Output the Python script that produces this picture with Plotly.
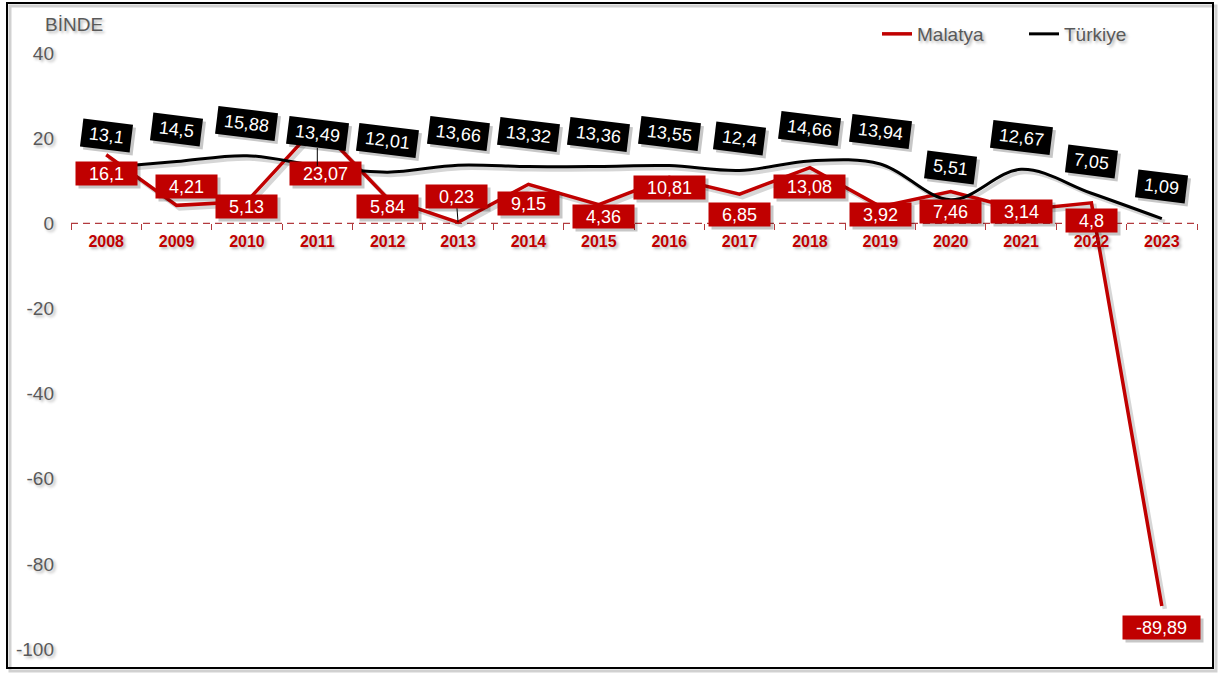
import plotly.graph_objects as go

# ---- data ----
years = [str(y) for y in range(2008, 2024)]
malatya = [16.1, 4.21, 5.13, 23.07, 5.84, 0.23, 9.15, 4.36, 10.81, 6.85, 13.08, 3.92, 7.46, 3.14, 4.8, -89.89]
turkiye = [13.1, 14.5, 15.88, 13.49, 12.01, 13.66, 13.32, 13.36, 13.55, 12.4, 14.66, 13.94, 5.51, 12.67, 7.05, 1.09]
y_ticks = [40, 20, 0, -20, -40, -60, -80, -100]

# ---- layout / style ----
W, H = 1222, 673
ML, MR, MT, MB = 71, 25, 53, 24
PW, PH = W - ML - MR, H - MT - MB
YMIN, YMAX = -100, 40
RED = "#C00000"
GREY = "#595959"
FONT = "Liberation Sans, Arial, sans-serif"
TXT_SHADOW = "2px 2px 3px rgba(0,0,0,0.30)"
LBL_H = 21  # text-box height of the data labels (px)

# pixel offsets of the red label boxes relative to their points (dx, dy)
red_offsets = [(0, 19), (10, -19), (0, 5), (8, 48), (0, 8), (-2, -26), (0, 19), (5, 12),
               (0, 10), (0, 20), (0, 19), (0, 8), (0, 20), (0, 2), (0, 18), (0, 22)]
black_dy = -32
red_leader = {5}
black_leader = {3}

px_per_cat = PW / len(years)
px_per_unit = PH / (YMAX - YMIN)
sh = 3  # shadow offset px
dx_cat = sh / px_per_cat
dy_unit = sh / px_per_unit


def fmt(v):
    return str(v).replace(".", ",")


def text_w(s, size=18):
    w = 0
    for ch in s:
        if ch.isdigit():
            w += 0.556
        elif ch == ",":
            w += 0.278
        elif ch == "-":
            w += 0.333
        else:
            w += 0.5
    return w * size


fig = go.Figure()

# shadow lines on base (hidden, slightly shifted) axes
fig.add_trace(go.Scatter(x=years, y=malatya, mode="lines", xaxis="x", yaxis="y",
                         line=dict(color="rgba(0,0,0,0.16)", width=4.5), showlegend=False, hoverinfo="skip"))
fig.add_trace(go.Scatter(x=years, y=turkiye, mode="lines", xaxis="x", yaxis="y",
                         line=dict(color="rgba(0,0,0,0.16)", width=4, shape="spline", smoothing=1),
                         showlegend=False, hoverinfo="skip"))

# main lines on visible axes
fig.add_trace(go.Scatter(x=years, y=malatya, mode="lines", name="Malatya", xaxis="x2", yaxis="y2",
                         line=dict(color=RED, width=3.5)))
fig.add_trace(go.Scatter(x=years, y=turkiye, mode="lines", name="Türkiye", xaxis="x2", yaxis="y2",
                         line=dict(color="black", width=3, shape="spline", smoothing=1)))

annotations = []
# red labels (category axis -> position by category index)
for i, v in enumerate(malatya):
    t = fmt(v)
    dx, dy = red_offsets[i]
    w = text_w(t) + 24
    common = dict(x=i, y=v, xref="x2", yref="y2", showarrow=True, ax=dx, ay=dy,
                  arrowhead=0, standoff=0, borderpad=1, width=w, height=LBL_H)
    annotations.append(dict(common, ax=dx + sh, ay=dy + sh, text=" ",
                            font=dict(size=18, family=FONT),
                            bgcolor="rgba(0,0,0,0.22)", arrowcolor="rgba(0,0,0,0)"))
    annotations.append(dict(common, text=t, font=dict(size=18, color="white", family=FONT),
                            bgcolor=RED,
                            arrowcolor="black" if i in red_leader else "rgba(0,0,0,0)", arrowwidth=1))
# black labels
for i, v in enumerate(turkiye):
    t = fmt(v)
    w = text_w(t) + 8
    common = dict(x=i, y=v, xref="x2", yref="y2", showarrow=True, ax=0, ay=black_dy,
                  arrowhead=0, standoff=0, borderpad=3, width=w, height=LBL_H, textangle=7)
    annotations.append(dict(common, ax=sh, ay=black_dy + sh, text=" ",
                            font=dict(size=18, family=FONT),
                            bgcolor="rgba(0,0,0,0.22)", arrowcolor="rgba(0,0,0,0)"))
    annotations.append(dict(common, text=t, font=dict(size=18, color="white", family=FONT),
                            bgcolor="black",
                            arrowcolor="black" if i in black_leader else "rgba(0,0,0,0)", arrowwidth=1))

# unit label
annotations.append(dict(text="BİNDE", xref="paper", yref="paper", x=(43 - ML) / PW, y=1 + (MT - 25) / PH,
                        xanchor="left", yanchor="middle", showarrow=False,
                        font=dict(size=19, color=GREY, family=FONT, shadow=TXT_SHADOW)))

shapes = [
    # frame shadow
    dict(type="rect", xref="paper", yref="paper",
         x0=(7 - ML + 3) / PW, x1=(1213 - ML + 3) / PW, y0=-(668 + 3 - (MT + PH)) / PH, y1=1 + (MT - 3 - 3) / PH,
         line=dict(color="rgba(0,0,0,0.18)", width=3), layer="below"),
    # frame
    dict(type="rect", xref="paper", yref="paper",
         x0=(7 - ML) / PW, x1=(1213 - ML) / PW, y0=-(668 - (MT + PH)) / PH, y1=1 + (MT - 3) / PH,
         line=dict(color="black", width=2), layer="below"),
    # dashed zero line
    dict(type="line", xref="paper", yref="y2", x0=0, x1=1, y0=0, y1=0,
         line=dict(color="#B23A3E", width=1.3, dash="7px,5px"), layer="below"),
]

zero_pos = (0 - YMIN) / (YMAX - YMIN)

fig.update_layout(
    width=W, height=H,
    margin=dict(l=ML, r=MR, t=MT, b=MB),
    paper_bgcolor="white", plot_bgcolor="white",
    font=dict(family=FONT, color=GREY),
    showlegend=True,
    legend=dict(orientation="h", x=(877 - ML) / PW, y=1 + (MT - 34) / PH, xanchor="left", yanchor="middle",
                font=dict(size=19, color=GREY, family=FONT, shadow=TXT_SHADOW),
                bgcolor="rgba(0,0,0,0)", itemwidth=30, entrywidth=102, entrywidthmode="pixels"),
    xaxis=dict(type="category", categoryorder="array", categoryarray=years,
               range=[-0.5 - dx_cat, len(years) - 0.5 - dx_cat], visible=False, fixedrange=True),
    yaxis=dict(range=[YMIN + dy_unit, YMAX + dy_unit], visible=False, fixedrange=True),
    xaxis2=dict(type="category", categoryorder="array", categoryarray=years, overlaying="x",
                range=[-0.5, len(years) - 0.5], anchor="free", position=zero_pos,
                showgrid=False, zeroline=False, showline=False, fixedrange=True,
                ticks="outside", tickson="boundaries", ticklen=6, tickcolor="#B23A3E", tickwidth=1.3,
                ticklabelstandoff=7,
                tickfont=dict(size=16, color=RED, family="Liberation Sans, Arial", weight="bold",
                              shadow=TXT_SHADOW)),
    yaxis2=dict(range=[YMIN, YMAX], overlaying="y", anchor="x2", side="left", fixedrange=True,
                tickvals=y_ticks, ticktext=[str(t) for t in y_ticks],
                showgrid=False, zeroline=False, showline=False, ticks="", ticklabelstandoff=16,
                tickfont=dict(size=19, color=GREY, family=FONT, shadow=TXT_SHADOW)),
    annotations=annotations,
    shapes=shapes,
)

fig.write_html("out.html", config={"displayModeBar": False},
               post_script="document.body.style.margin='0px';")
